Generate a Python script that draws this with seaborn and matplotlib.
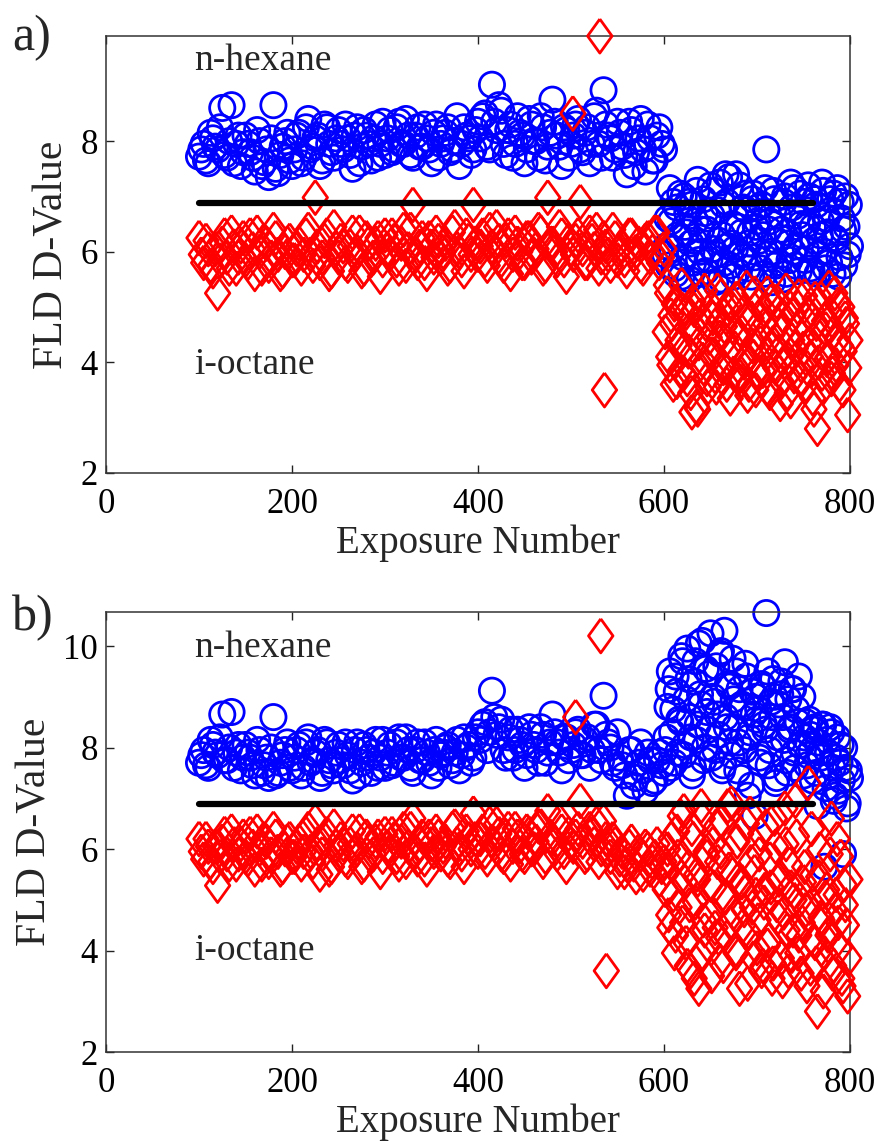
import numpy as np
import pandas as pd
import matplotlib
matplotlib.use("Agg")
import matplotlib.pyplot as plt
import seaborn as sns

# ---------------- data ----------------
# exposure numbers: regular part and fluctuating part (two interleaved samplings each)
exposure_low = np.arange(100, 600.1, 5)
exposure_low2 = np.arange(102.5, 597.6, 5)
exposure_high = np.arange(602.5, 800.1, 2.5)
exposure_high2 = np.arange(601.25, 798.8, 2.5)

# panel a) n-hexane
hexane_a_low = [7.72, 7.95, 7.60, 8.05, 7.85, 8.60, 7.70, 8.65, 7.95, 7.55, 8.10, 7.80, 7.45, 8.00, 7.62, 7.35, 8.65, 7.42, 7.90, 8.15, 7.55,
                8.10, 7.60, 8.25, 7.85, 8.05, 7.55, 8.30, 7.95, 7.70, 8.20, 7.85, 8.05, 7.50, 8.25, 7.90, 8.10, 7.65, 8.30, 7.95, 7.75,
                8.20, 7.85, 8.35, 7.95, 8.10, 7.70, 8.25, 7.90, 8.05, 7.60, 8.30, 7.95, 8.15, 7.80, 8.00, 7.55, 8.25, 8.05, 7.85, 8.35,
                8.45, 7.90, 9.02, 8.20, 8.55, 7.75, 8.30, 7.95, 8.15, 7.60, 8.40, 8.00, 7.70, 8.25, 7.90, 8.75, 8.10, 7.55, 8.20, 7.95,
                8.30, 7.85, 8.15, 7.60, 8.45, 7.95, 8.92, 8.10, 7.70, 8.35, 7.90, 7.40, 8.20, 7.80, 8.40, 7.45, 8.05, 7.65, 8.25, 7.85]
hexane_a_low2 = [7.85, 7.65, 8.15, 7.90, 8.25, 7.75, 8.00, 7.60, 8.10, 7.80,
                 7.95, 7.70, 8.20, 7.55, 7.85, 8.05, 7.50, 7.75, 8.00, 7.65,
                 7.85, 8.15, 7.70, 8.40, 7.90, 8.10, 7.65, 8.25, 7.80, 8.05,
                 7.95, 8.30, 7.75, 8.10, 7.60, 8.20, 7.95, 8.05, 7.70, 8.35,
                 8.05, 7.80, 8.25, 7.95, 8.40, 7.75, 8.10, 7.90, 8.30, 7.85,
                 8.15, 7.70, 8.05, 8.25, 7.85, 8.45, 7.95, 8.10, 7.75, 8.20,
                 8.05, 8.50, 7.85, 8.35, 8.65, 7.95, 8.20, 7.70, 8.45, 8.10,
                 7.85, 8.30, 8.00, 8.45, 7.65, 8.15, 8.35, 7.90, 8.25, 7.70,
                 8.10, 8.40, 7.80, 8.25, 7.95, 8.55, 7.70, 8.30, 8.05, 7.85,
                 8.15, 7.75, 8.35, 7.55, 8.05, 7.85, 8.30, 7.65, 8.10, 7.95]
hexane_a_high = [6.10, 5.75, 6.55, 6.90, 5.60, 6.30, 7.05, 5.90, 6.45, 6.70,
                 5.50, 6.85, 6.20, 7.10, 5.85, 6.40, 6.95, 5.65, 6.60, 7.20,
                 6.05, 5.45, 6.75, 7.25, 6.30, 5.80, 6.90, 7.35, 6.15, 5.55,
                 7.40, 6.45, 5.95, 6.80, 7.05, 5.70, 6.35, 6.95, 5.90, 6.55,
                 6.20, 6.85, 5.60, 7.85, 6.40, 6.00, 7.10, 5.75, 6.65, 6.25,
                 5.50, 7.00, 6.35, 5.85, 6.80, 7.15, 6.10, 5.65, 6.50, 6.90,
                 6.05, 7.20, 5.70, 6.45, 6.95, 5.60, 6.30, 7.25, 6.00, 6.60,
                 5.80, 6.75, 7.05, 6.20, 5.55, 6.90, 6.40, 7.00, 5.95, 6.10]
hexane_a_high2 = [5.95, 6.60, 7.15, 6.05, 5.70, 6.80, 6.25, 5.55, 7.00, 6.35,
                  6.90, 6.15, 5.80, 6.55, 7.30, 6.00, 5.60, 6.70, 6.40, 5.85,
                  6.65, 7.10, 5.95, 6.20, 5.50, 6.85, 7.40, 6.10, 5.75, 6.50,
                  6.05, 5.65, 7.20, 6.35, 5.90, 6.75, 6.15, 5.55, 7.05, 6.45,
                  6.80, 5.70, 6.30, 7.15, 5.95, 6.55, 5.45, 6.95, 6.20, 5.80,
                  6.40, 6.90, 5.60, 6.15, 7.25, 6.00, 5.75, 6.65, 7.05, 6.30,
                  5.85, 6.50, 7.00, 5.65, 6.20, 6.85, 5.95, 6.55, 7.10, 5.70,
                  6.35, 6.95, 5.60, 6.25, 7.15, 5.90, 6.60, 5.75, 6.45, 6.85]

# panel a) i-octane
octane_a_low = [6.25, 5.80, 6.05, 5.65, 5.25, 6.15, 5.90, 6.35, 5.70, 6.10, 5.85, 6.30, 5.60, 6.00, 6.20, 5.75, 6.40, 5.95, 5.65, 6.15, 5.85,
                6.05, 5.70, 6.30, 5.95, 6.98, 5.80, 6.20, 5.60, 6.45, 5.90, 6.10, 5.75, 6.35, 6.00, 5.65, 6.25, 5.85, 6.15, 5.55, 6.30,
                5.95, 6.20, 5.70, 6.40, 6.05, 6.85, 5.80, 6.25, 5.60, 6.10, 6.35, 5.90, 6.15, 5.75, 6.45, 6.00, 5.65, 6.20, 6.85, 5.95,
                6.30, 5.75, 6.10, 6.45, 5.85, 6.20, 5.60, 6.35, 6.00, 5.80, 6.25, 5.95, 6.40, 5.70, 6.98, 6.15, 5.85, 6.30, 5.55, 6.05,
                6.20, 6.90, 5.80, 6.35, 6.05, 5.70, 6.25, 5.95, 6.40, 5.85, 6.10, 5.65, 6.30, 6.00, 5.75, 6.20, 5.90, 6.35, 5.80, 6.05]
octane_a_low2 = [5.95, 6.20, 5.75, 6.05, 5.85, 6.30, 5.70, 6.10, 5.90, 6.25,
                 5.80, 6.05, 6.35, 5.70, 6.15, 5.90, 6.25, 5.60, 6.00, 6.20,
                 5.85, 6.15, 5.95, 6.40, 5.75, 6.10, 5.90, 6.30, 5.65, 6.05,
                 6.20, 5.80, 6.10, 5.95, 6.35, 5.70, 6.15, 5.90, 6.25, 5.85,
                 6.05, 6.30, 5.85, 6.15, 5.75, 6.40, 5.95, 6.10, 5.80, 6.25,
                 5.90, 6.20, 6.00, 5.70, 6.35, 6.05, 5.85, 6.30, 5.95, 6.15,
                 6.10, 5.85, 6.40, 6.00, 6.20, 5.75, 6.30, 5.95, 6.15, 5.80,
                 6.25, 5.90, 6.05, 6.35, 5.75, 6.15, 6.00, 6.45, 5.85, 6.20,
                 5.95, 6.30, 6.05, 5.80, 6.20, 6.40, 5.90, 6.10, 5.75, 6.25,
                 6.05, 5.85, 6.30, 5.95, 6.15, 5.70, 6.25, 6.00, 6.35, 5.90]
octane_a_high = [5.40, 4.10, 4.85, 3.60, 5.10, 4.40, 3.85, 4.95, 4.25, 3.70,
                 4.60, 3.10, 4.95, 3.20, 4.35, 5.20, 3.90, 4.70, 3.55, 4.15,
                 4.80, 3.75, 5.30, 4.45, 3.95, 4.65, 3.60, 5.05, 4.20, 3.80,
                 5.15, 4.50, 3.65, 4.90, 4.05, 3.40, 4.75, 4.30, 5.25, 3.85,
                 4.55, 3.70, 4.95, 4.15, 3.50, 5.10, 4.35, 3.90, 4.70, 3.25,
                 4.85, 4.00, 3.45, 5.00, 4.40, 3.75, 4.60, 5.20, 3.95, 4.25,
                 3.60, 4.90, 4.10, 3.35, 5.15, 2.80, 4.45, 3.80, 4.75, 4.05,
                 5.35, 3.70, 4.55, 3.95, 5.05, 4.30, 3.50, 4.80, 3.05, 4.40]
octane_a_high2 = [4.55, 5.25, 3.95, 4.70, 5.05, 3.65, 4.30, 5.40, 3.80, 4.90,
                  4.20, 3.45, 5.10, 4.60, 3.15, 4.85, 4.05, 5.30, 3.70, 4.45,
                  5.00, 4.15, 3.55, 4.75, 5.20, 3.90, 4.40, 4.95, 3.35, 4.65,
                  4.25, 5.15, 3.75, 4.55, 4.00, 5.35, 3.60, 4.80, 4.10, 3.50,
                  5.05, 4.35, 3.85, 4.70, 5.25, 3.45, 4.50, 3.95, 5.10, 4.20,
                  3.65, 4.60, 5.30, 4.05, 3.30, 4.85, 4.25, 5.00, 3.70, 4.45,
                  5.20, 3.90, 4.35, 4.95, 3.15, 4.70, 4.00, 5.15, 3.55, 4.60,
                  4.10, 4.90, 3.80, 5.25, 4.40, 3.60, 5.00, 4.20, 4.70, 3.90]
octane_a_out_x = [502, 531, 536]
octane_a_out_y = [8.50, 9.90, 3.50]

# panel b) n-hexane
hexane_b_low = [7.70, 7.95, 7.60, 8.05, 7.85, 8.65, 7.75, 8.70, 7.90, 7.55, 8.05, 7.80, 7.45, 7.95, 7.65, 7.40, 8.60, 7.50, 7.85, 8.10, 7.55,
                7.95, 7.45, 8.10, 7.70, 7.90, 7.40, 8.15, 7.75, 7.55, 8.05, 7.65, 7.85, 7.35, 8.10, 7.70, 7.95, 7.50, 8.15, 7.80, 7.60,
                8.05, 7.70, 8.20, 7.80, 7.95, 7.50, 8.10, 7.75, 7.90, 7.45, 8.15, 7.85, 8.00, 7.65, 7.90, 7.55, 8.20, 8.05, 7.80, 8.30,
                8.45, 7.95, 9.12, 8.25, 8.55, 7.80, 8.35, 7.95, 8.15, 7.60, 8.40, 8.05, 7.70, 8.25, 7.90, 8.65, 8.10, 7.55, 8.20, 7.95,
                8.30, 7.85, 8.15, 7.60, 8.45, 7.95, 9.02, 8.10, 7.70, 8.30, 7.65, 7.05, 7.95, 7.40, 8.10, 7.15, 7.75, 7.35, 7.90, 7.50]
hexane_b_low2 = [7.85, 7.65, 8.15, 7.90, 8.20, 7.75, 8.00, 7.60, 8.05, 7.80,
                 7.90, 7.65, 8.15, 7.50, 7.80, 8.00, 7.45, 7.70, 7.95, 7.60,
                 7.80, 8.05, 7.60, 8.20, 7.75, 7.95, 7.50, 8.10, 7.65, 7.90,
                 7.75, 8.10, 7.55, 7.95, 7.45, 8.05, 7.80, 7.90, 7.60, 8.15,
                 7.90, 7.65, 8.10, 7.80, 8.20, 7.60, 7.95, 7.75, 8.10, 7.70,
                 7.95, 7.60, 7.90, 8.05, 7.75, 8.15, 7.85, 8.00, 7.70, 8.20,
                 8.15, 8.50, 8.30, 8.60, 8.40, 7.95, 8.20, 7.80, 8.35, 8.05,
                 7.85, 8.25, 7.95, 8.40, 7.70, 8.10, 8.30, 7.90, 8.20, 7.75,
                 8.05, 8.35, 7.85, 8.20, 7.95, 8.45, 7.75, 8.25, 8.00, 7.60,
                 7.80, 7.45, 7.95, 7.25, 7.70, 7.55, 7.90, 7.30, 7.75, 7.65]
hexane_b_high = [8.20, 9.15, 7.60, 8.75, 9.40, 7.90, 8.50, 9.70, 8.05, 9.95,
                 8.60, 7.45, 9.30, 8.15, 10.05, 8.85, 7.75, 9.55, 8.35, 10.25,
                 9.00, 7.95, 8.65, 9.85, 7.55, 10.30, 8.40, 9.20, 7.85, 8.95,
                 9.50, 8.10, 7.40, 8.80, 9.65, 7.05, 8.30, 9.10, 6.65, 8.55,
                 7.80, 9.25, 8.45, 10.65, 7.65, 8.90, 9.35, 7.30, 8.20, 9.05,
                 8.60, 9.68, 7.50, 8.35, 9.15, 7.90, 8.75, 9.40, 8.05, 7.45,
                 8.50, 7.85, 8.25, 7.35, 8.40, 6.85, 7.90, 8.45, 5.65, 8.15,
                 7.45, 8.30, 6.95, 7.80, 7.15, 8.05, 5.90, 7.60, 6.90, 7.40]
hexane_b_high2 = [7.95, 8.80, 9.50, 8.30, 7.70, 9.10, 8.55, 9.80, 7.85, 8.95,
                  9.35, 8.20, 7.60, 9.70, 8.45, 9.05, 10.10, 8.00, 8.70, 9.45,
                  7.80, 8.90, 9.60, 8.25, 9.90, 7.65, 8.60, 9.25, 8.10, 9.75,
                  8.40, 7.55, 9.15, 8.85, 7.95, 9.40, 8.20, 7.25, 8.65, 9.00,
                  8.75, 7.70, 9.20, 8.35, 9.50, 7.95, 8.60, 9.00, 7.40, 8.85,
                  9.30, 8.15, 7.75, 8.95, 8.40, 9.15, 7.60, 8.50, 8.05, 9.00,
                  8.20, 7.65, 8.55, 7.95, 8.35, 7.50, 8.10, 7.80, 8.45, 7.20,
                  7.90, 8.40, 7.60, 7.05, 8.20, 7.70, 7.35, 8.00, 6.80, 7.55]

# panel b) i-octane
octane_b_low = [6.20, 5.80, 6.05, 5.65, 5.28, 6.15, 5.90, 6.35, 5.70, 6.10, 5.85, 6.30, 5.60, 6.00, 6.20, 5.75, 6.40, 5.95, 5.65, 6.15, 5.85,
                6.05, 5.70, 6.30, 5.95, 6.55, 5.50, 6.20, 5.60, 6.45, 5.90, 6.10, 5.75, 6.35, 6.00, 5.65, 6.25, 5.85, 6.15, 5.55, 6.30,
                5.95, 6.20, 5.70, 6.40, 6.05, 6.60, 5.80, 6.25, 5.60, 6.10, 6.35, 5.90, 6.15, 5.75, 6.45, 6.00, 5.65, 6.20, 6.70, 5.95,
                6.35, 5.80, 6.15, 6.50, 5.90, 6.25, 5.70, 6.40, 6.05, 5.85, 6.30, 6.00, 6.45, 5.75, 6.75, 6.20, 5.90, 6.35, 5.65, 6.10,
                6.25, 6.95, 5.85, 6.40, 6.10, 5.75, 6.55, 6.00, 6.20, 5.55, 5.95, 5.70, 6.15, 5.45, 5.90, 6.05, 5.60, 5.85, 5.40, 5.75]
octane_b_low2 = [5.95, 6.20, 5.75, 6.05, 5.85, 6.30, 5.70, 6.10, 5.90, 6.25,
                 5.80, 6.05, 6.35, 5.70, 6.15, 5.90, 6.25, 5.60, 6.00, 6.20,
                 5.85, 6.15, 5.95, 6.40, 5.75, 6.10, 5.90, 6.30, 5.65, 6.05,
                 6.20, 5.80, 6.10, 5.95, 6.35, 5.70, 6.15, 5.90, 6.25, 5.85,
                 6.05, 6.30, 5.85, 6.15, 5.75, 6.40, 5.95, 6.10, 5.80, 6.25,
                 5.95, 6.25, 6.05, 5.80, 6.40, 6.10, 5.90, 6.35, 6.00, 6.20,
                 6.20, 5.95, 6.50, 6.10, 6.30, 5.85, 6.40, 6.05, 6.25, 5.90,
                 6.35, 6.00, 6.15, 6.45, 5.85, 6.25, 6.10, 6.55, 5.95, 6.30,
                 6.05, 6.40, 6.15, 5.90, 6.30, 6.50, 6.00, 6.20, 5.85, 6.10,
                 5.80, 5.55, 6.05, 5.70, 5.95, 5.50, 6.00, 5.75, 6.10, 5.65]
octane_b_high = [5.60, 4.70, 6.20, 5.10, 4.30, 5.85, 6.65, 4.55, 5.35, 3.70,
                 4.90, 6.40, 3.45, 5.50, 3.25, 6.85, 4.60, 5.95, 4.10, 5.30,
                 6.10, 4.45, 5.75, 3.80, 6.55, 5.05, 4.25, 5.60, 6.90, 4.75,
                 3.95, 5.40, 6.30, 4.50, 5.15, 3.35, 6.70, 4.85, 5.55, 4.05,
                 5.90, 3.60, 4.95, 6.45, 4.20, 5.25, 3.75, 6.05, 4.65, 5.45,
                 3.40, 6.80, 4.40, 5.70, 3.90, 5.00, 6.25, 4.30, 3.55, 5.35,
                 4.80, 7.30, 3.65, 5.50, 4.15, 2.80, 6.00, 4.60, 3.95, 5.20,
                 4.35, 6.60, 3.70, 5.10, 4.55, 5.85, 3.30, 4.90, 3.10, 5.40]
octane_b_high2 = [5.20, 6.00, 4.45, 5.70, 3.95, 6.35, 4.85, 5.45, 6.75, 4.15,
                  5.65, 3.60, 6.20, 4.95, 5.40, 3.90, 6.60, 4.40, 5.85, 4.70,
                  3.50, 5.25, 6.45, 4.25, 5.95, 3.70, 5.05, 6.85, 4.55, 5.50,
                  4.00, 6.15, 3.25, 5.35, 4.80, 6.50, 4.35, 5.75, 3.85, 5.10,
                  4.60, 6.30, 3.70, 5.20, 4.10, 5.80, 3.45, 6.60, 4.90, 5.40,
                  3.85, 4.75, 6.10, 3.60, 5.25, 4.40, 6.95, 3.95, 5.00, 4.55,
                  5.65, 3.30, 4.85, 6.40, 4.20, 3.75, 5.45, 4.65, 3.20, 5.05,
                  4.30, 5.90, 3.55, 4.80, 6.20, 4.05, 3.45, 5.30, 4.50, 3.85]
octane_b_out_x = [505, 532, 538]
octane_b_out_y = [8.60, 10.20, 3.60]

threshold_x = [100, 760]
threshold_y = [6.88, 6.88]

x_ticks = [0, 200, 400, 600, 800]
y_ticks_a = [2, 4, 6, 8]
y_ticks_b = [2, 4, 6, 8, 10]

# ---------------- style ----------------
sns.set_theme(style="white")
plt.rcParams['font.family'] = ['Liberation Serif', 'DejaVu Serif']

DIAMOND = [(0, 1), (0.72, 0), (0, -1), (-0.72, 0), (0, 1)]
TICK_FS = 25
XLABEL_FS = 28
YLABEL_FS = 30
ANN_FS = 27

fig = plt.figure(figsize=(8.79, 11.41), dpi=100)
ax_a = fig.add_axes([0.1206, 0.5855, 0.967 - 0.1206, 0.9684 - 0.5855])
ax_b = fig.add_axes([0.1206, 0.0780, 0.967 - 0.1206, 0.4636 - 0.0780])


def build(ax, hex_parts, oct_parts, out_x, out_y, ylim, yticks):
    xs = [exposure_low, exposure_low2, exposure_high, exposure_high2]
    hex_df = pd.DataFrame({"x": np.concatenate(xs),
                           "y": np.concatenate(hex_parts)})
    oct_df = pd.DataFrame({"x": np.concatenate(xs + [out_x]),
                           "y": np.concatenate(list(oct_parts) + [out_y])})
    sns.scatterplot(data=hex_df, x="x", y="y", ax=ax, marker="o", s=330,
                    facecolor="none", edgecolor="#0000ff", linewidth=2.0, zorder=2)
    ax.collections[-1].set_clip_on(False)
    sns.scatterplot(data=oct_df, x="x", y="y", ax=ax, marker=DIAMOND, s=600,
                    facecolor="none", edgecolor="#ff0000", linewidth=2.0, zorder=3)
    ax.collections[-1].set_clip_on(False)
    sns.lineplot(x=threshold_x, y=threshold_y, ax=ax, color="black", lw=4.5,
                 solid_capstyle="round", zorder=4)
    ax.set_xlim(0, 800)
    ax.set_ylim(*ylim)
    ax.set_xticks(x_ticks)
    ax.set_yticks(yticks)
    ax.set_xticklabels([str(t) for t in x_ticks])
    ax.set_yticklabels([str(t) for t in yticks])
    ax.tick_params(direction="in", length=6, width=1.0, colors="#222222",
                   labelsize=TICK_FS, labelcolor="black", top=True, right=True,
                   bottom=True, left=True)
    ax.tick_params(axis="x", pad=11)
    ax.tick_params(axis="y", pad=6)
    for sp in ax.spines.values():
        sp.set_color("#333333")
        sp.set_linewidth(1.1)
    ax.set_xlabel("Exposure Number", fontsize=XLABEL_FS, labelpad=2)
    ax.set_ylabel("FLD D-Value", fontsize=YLABEL_FS, labelpad=6)


build(ax_a,
      [hexane_a_low, hexane_a_low2, hexane_a_high, hexane_a_high2],
      [octane_a_low, octane_a_low2, octane_a_high, octane_a_high2],
      octane_a_out_x, octane_a_out_y, (2, 9.9), y_ticks_a)
build(ax_b,
      [hexane_b_low, hexane_b_low2, hexane_b_high, hexane_b_high2],
      [octane_b_low, octane_b_low2, octane_b_high, octane_b_high2],
      octane_b_out_x, octane_b_out_y, (2, 10.67), y_ticks_b)

ax_a.text(95, 9.46, "n-hexane", fontsize=ANN_FS, ha="left", va="center")
ax_a.text(95, 3.95, "i-octane", fontsize=ANN_FS, ha="left", va="center")
ax_b.text(95, 9.96, "n-hexane", fontsize=ANN_FS, ha="left", va="center")
ax_b.text(95, 3.99, "i-octane", fontsize=ANN_FS, ha="left", va="center")

fig.text(12 / 879, 1 - 38 / 1141, "a)", fontsize=36, ha="left", va="center")
fig.text(12 / 879, 1 - 618 / 1141, "b)", fontsize=36, ha="left", va="center")

fig.savefig("out.png", dpi=100)
